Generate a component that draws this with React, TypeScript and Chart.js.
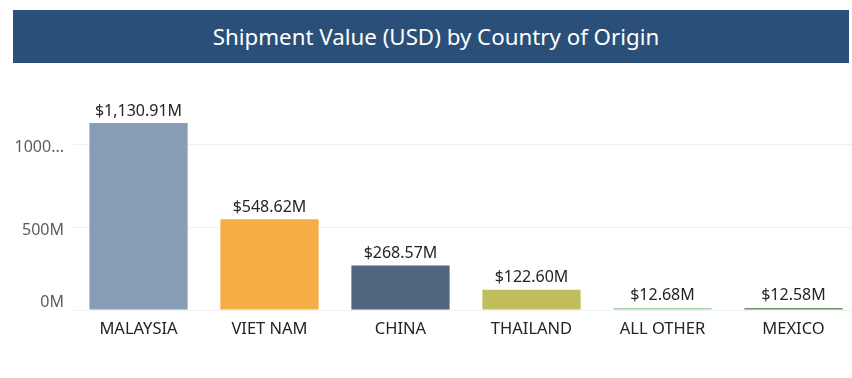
import React, { useEffect, useRef } from "react";
import { Chart, registerables } from "chart.js";

Chart.register(...registerables);

const categories = ["MALAYSIA", "VIET NAM", "CHINA", "THAILAND", "ALL OTHER", "MEXICO"];
const valuesM = [1130.91, 548.62, 268.57, 122.6, 12.68, 12.58];
const barColors = ["#879DB3", "#F5AE45", "#51677F", "#BFBD5C", "#A6D2A8", "#6A8F66"];
const yTickValues = [0, 500, 1000];
const yTickLabels = ["0M", "500M", "1000..."];
const titleText = "Shipment Value (USD) by Country of Origin";

const FONT = "'Segoe UI', 'Noto Sans', 'Open Sans', sans-serif";

const fmt = (v: number) =>
  "$" + v.toLocaleString("en-US", { minimumFractionDigits: 2, maximumFractionDigits: 2 }) + "M";

const labelPlugin = {
  id: "barValueLabels",
  afterDatasetsDraw(chart: any) {
    const ctx = chart.ctx;
    const meta = chart.getDatasetMeta(0);
    ctx.save();
    ctx.font = `16px ${FONT}`;
    ctx.fillStyle = "#252423";
    ctx.textAlign = "center";
    ctx.textBaseline = "middle";
    meta.data.forEach((bar: any, i: number) => {
      ctx.fillText(fmt(valuesM[i]), bar.x, bar.y - 12);
    });
    // y tick labels, positioned from the y scale (bottom label kept above the baseline)
    const ys = chart.scales.y;
    ctx.font = `16px ${FONT}`;
    ctx.fillStyle = "#605E5C";
    ctx.textAlign = "right";
    yTickValues.forEach((v, i) => {
      let py = ys.getPixelForValue(v) + 3;
      const limit = ys.bottom - 8;
      if (py > limit) py = limit;
      ctx.fillText(yTickLabels[i], ys.right - 9, py);
    });
    ctx.restore();
  },
};

export default function App() {
  const ref = useRef<HTMLCanvasElement>(null);
  useEffect(() => {
    if (!ref.current) return;
    const chart = new Chart(ref.current, {
      type: "bar",
      data: {
        labels: categories,
        datasets: [
          {
            data: valuesM,
            backgroundColor: barColors,
            categoryPercentage: 1,
            barPercentage: 0.75,
          },
        ],
      },
      options: {
        animation: false,
        responsive: false,
        maintainAspectRatio: false,
        layout: { padding: { top: 95, left: 0, right: 0, bottom: 0 } },
        plugins: { legend: { display: false }, tooltip: { enabled: false } },
        scales: {
          x: {
            grid: { display: false, drawTicks: false },
            border: { display: false },
            ticks: { color: "#252423", font: { family: FONT, size: 16.5 }, padding: 9, maxRotation: 0 },
            afterFit: (s: any) => {
              s.height = 68;
            },
          },
          y: {
            min: 0,
            max: 1300,
            afterBuildTicks: (s: any) => {
              s.ticks = yTickValues.map((v) => ({ value: v }));
            },
            grid: { color: "#F0F0F0", drawTicks: false, lineWidth: 1 },
            border: { display: false },
            ticks: { display: false },
            afterFit: (s: any) => {
              s.width = 73;
            },
          },
        },
      },
      plugins: [labelPlugin],
    });
    return () => chart.destroy();
  }, []);

  return (
    <div
      style={{
        position: "fixed",
        left: 0,
        top: 0,
        width: 852,
        height: 378,
        overflow: "hidden",
        background: "#fff",
      }}
    >
      <canvas
        ref={ref}
        width={859}
        height={378}
        style={{ position: "absolute", left: 0, top: 0, width: 859, height: 378 }}
      />
      <div
        style={{
          position: "absolute",
          left: 13,
          top: 10,
          width: 836,
          height: 53,
          background: "#2A5079",
          color: "#fff",
          fontFamily: FONT,
          fontSize: 22.3,
          display: "flex",
          alignItems: "center",
          justifyContent: "center",
          paddingLeft: 10,
          boxSizing: "border-box",
        }}
      >
        {titleText}
      </div>
    </div>
  );
}
